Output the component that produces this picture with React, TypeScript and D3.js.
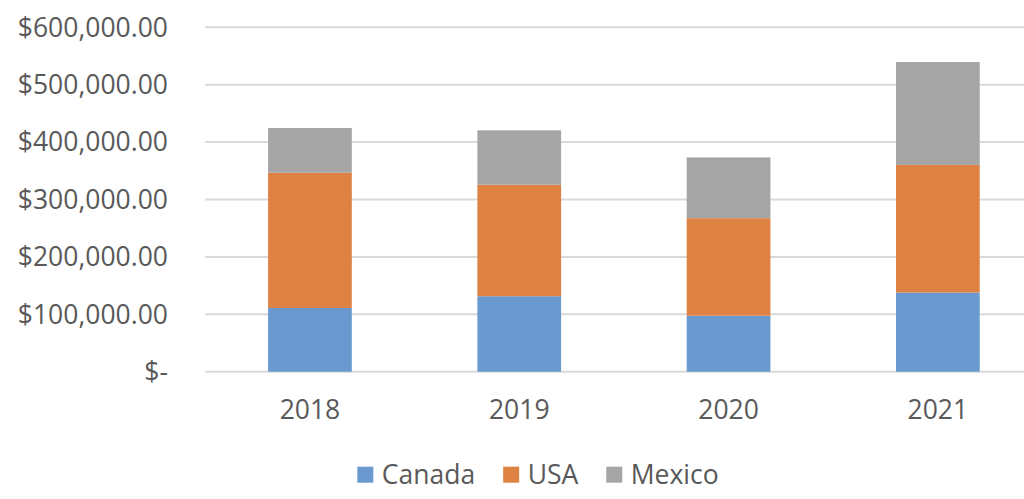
import React, {useEffect, useRef} from 'react';
import * as d3 from 'd3';

const years = ['2018', '2019', '2020', '2021']
const canada = [111000, 131500, 97500, 138000]
const usa = [235600, 194200, 170000, 222300]
const mexico = [78000, 94800, 105800, 179100]
const seriesNames = ['Canada', 'USA', 'Mexico']
const seriesColors = ['#6A99CF', '#DE8244', '#A5A5A5']
const yTicks = [0, 100000, 200000, 300000, 400000, 500000, 600000]

const App = () => {

    const svgRef = useRef<SVGSVGElement>(null)

    const width = 1024
    const height = 499

    useEffect(() => {
        const svg = d3.select(svgRef.current)
        svg.selectAll('*').remove()

        const rows = years.map((year, i) => ({
            year,
            Canada: canada[i],
            USA: usa[i],
            Mexico: mexico[i]
        }))

        const stacked = d3.stack<any>().keys(seriesNames)(rows)

        const xScale = d3.scaleBand()
            .domain(years)
            .range([205.3, 1042.5])
            .paddingInner(0.6)
            .paddingOuter(0.3)

        const yScale = d3.scaleLinear()
            .domain([0, 600000])
            .range([371.7, 27.3])

        const font = '"Open Sans", sans-serif'
        const textColor = '#595959'
        const fontSize = 26.5

        // gridlines
        svg.append('g')
            .selectAll('line')
            .data(yTicks)
            .join('line')
            .attr('x1', 205.3)
            .attr('x2', width)
            .attr('y1', d => yScale(d))
            .attr('y2', d => yScale(d))
            .attr('stroke', '#D9D9D9')
            .attr('stroke-width', 2)

        // y labels
        const money = d3.format('$,.2f')
        svg.append('g')
            .selectAll('text')
            .data(yTicks)
            .join('text')
            .attr('x', 168)
            .attr('y', d => yScale(d))
            .attr('dy', '0.35em')
            .attr('text-anchor', 'end')
            .attr('font-family', font)
            .attr('font-size', fontSize)
            .attr('fill', textColor)
            .text(d => d === 0 ? '$-' : money(d))

        // bars
        svg.append('g')
            .selectAll('g')
            .data(stacked)
            .join('g')
            .attr('fill', (d, i) => seriesColors[i])
            .selectAll('rect')
            .data(d => d)
            .join('rect')
            .attr('x', d => xScale(d.data.year) as number)
            .attr('width', xScale.bandwidth())
            .attr('y', d => yScale(d[1]))
            .attr('height', d => yScale(d[0]) - yScale(d[1]))

        // x labels
        svg.append('g')
            .selectAll('text')
            .data(years)
            .join('text')
            .attr('x', d => (xScale(d) as number) + xScale.bandwidth() / 2)
            .attr('y', 410)
            .attr('dy', '0.35em')
            .attr('text-anchor', 'middle')
            .attr('font-family', font)
            .attr('font-size', fontSize)
            .attr('fill', textColor)
            .text(d => d)

        // legend
        const legend = svg.append('g')
        let cursor = 0
        seriesNames.forEach((name, i) => {
            const g = legend.append('g')
            g.append('rect')
                .attr('x', 0)
                .attr('y', -8)
                .attr('width', 16)
                .attr('height', 16)
                .attr('fill', seriesColors[i])
            const t = g.append('text')
                .attr('x', 24.5)
                .attr('dy', '0.35em')
                .attr('font-family', font)
                .attr('font-size', fontSize)
                .attr('fill', textColor)
                .text(name)
            const w = 24.5 + (t.node() as SVGTextElement).getComputedTextLength()
            g.attr('transform', `translate(${cursor},0)`)
            cursor += w + 28
        })
        const total = cursor - 28
        legend.attr('transform', `translate(${(358 + 718) / 2 - total / 2},474.7)`)

    }, [])

    return (
        <svg ref={svgRef} width={width} height={height}
            style={{position: 'absolute', left: 0, top: 0, background: '#fff'}} />
    )
}

export default App
